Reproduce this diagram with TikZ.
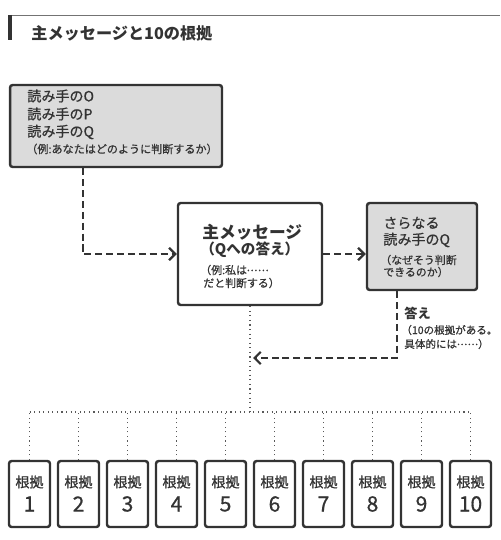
\documentclass[tikz,border=0pt]{standalone}
\usepackage{fontspec}
\setmainfont{Noto Sans CJK JP}
\newfontfamily\med{Noto Sans CJK JP}[FakeBold=0.7]
\usetikzlibrary{arrows.meta}
\definecolor{ink}{gray}{0.2}
\newcommand\jpdots{\raisebox{0.28em}{\makebox[2em][s]{.\hfil.\hfil.\hfil.\hfil.\hfil.}}}
\tikzset{
  box/.style={draw=ink, line width=1.4pt, rounded corners=1.5pt, inner sep=0pt},
  graybox/.style={box, fill=black!14},
  whitebox/.style={box, fill=white},
  smallbox/.style={box, fill=white, minimum width=0.82cm, minimum height=1.32cm},
  txt/.style={text=ink, inner sep=0pt, anchor=west},
  ctxt/.style={text=ink, inner sep=0pt},
  dasharrow/.style={draw=ink, line width=1.3pt, dash pattern=on 4pt off 2.2pt, -{Straight Barb[length=3.5pt,width=7pt,line width=1.3pt]}},
  dotline/.style={draw=black!65, line width=0.6pt, dotted},
}
\begin{document}
\begin{tikzpicture}[x=0.02cm,y=-0.02cm]
\useasboundingbox (0,0) rectangle (500,540);
% title
\draw[black!55, line width=0.5pt] (10,15) -- (500,15);
\draw[ink, line width=2.2pt] (10,15) -- (10,40);
\node[txt, font=\fontsize{9.2}{11}\selectfont\bfseries] (title) at (31,33) {主メッセージと10の根拠};
% boxes
\node[graybox, minimum width=4.24cm, minimum height=1.64cm] (q) at (116,126) {};
\node[whitebox, minimum width=2.88cm, minimum height=2.04cm] (main) at (250,254) {};
\node[graybox, minimum width=2.2cm, minimum height=1.74cm] (more) at (422,246.5) {};
% box q texts
\node[txt, font=\med\fontsize{8}{10}\selectfont] (q1) at (27,96) {読み手のO};
\node[txt, font=\med\fontsize{8}{10}\selectfont] (q2) at (27,114) {読み手のP};
\node[txt, font=\med\fontsize{8}{10}\selectfont] (q3) at (27,132) {読み手のQ};
\node[txt, font=\med\fontsize{6.3}{8}\selectfont] (q4) at (26,149) {（例:あなたはどのように判断するか）};
% main texts
\node[txt, font=\fontsize{9.5}{11}\selectfont\bfseries] (m1) at (202,232) {主メッセージ};
\node[txt, font=\fontsize{8.3}{10}\selectfont\bfseries] (m2) at (200,250) {（Qへの答え）};
\node[txt, font=\med\fontsize{6.2}{8}\selectfont] (m3) at (200,270) {（例:私は\jpdots};
\node[txt, font=\med\fontsize{6.2}{8}\selectfont] (m4) at (203,283) {だと判断する）};
% more texts
\node[txt, font=\med\fontsize{8}{10}\selectfont] (r1) at (383,223) {さらなる};
\node[txt, font=\med\fontsize{8}{10}\selectfont] (r2) at (383,240) {読み手のQ};
\node[txt, font=\med\fontsize{6.2}{8}\selectfont] (r3) at (380,260) {（なぜそう判断};
\node[txt, font=\med\fontsize{6.2}{8}\selectfont] (r4) at (383,272) {できるのか）};
% answer label
\node[txt, font=\fontsize{7.5}{9}\selectfont\bfseries] (a1) at (404,313) {答え};
\node[txt, font=\med\fontsize{6}{8}\selectfont] (a2) at (401,330) {（10の根拠がある。};
\node[txt, font=\med\fontsize{6}{8}\selectfont] (a3) at (404,344) {具体的には\jpdots）};
% small boxes
\foreach \i in {1,...,10}{
  \node[smallbox] (b\i) at ({29.5+49*(\i-1)},494) {};
  \node[ctxt, font=\med\fontsize{8}{9}\selectfont] (k\i) at ({29.5+49*(\i-1)},482) {根拠};
  \node[ctxt, font=\med\fontsize{12}{13}\selectfont] (n\i) at ({29.5+49*(\i-1)},504) {\i};
}
% connectors
\coordinate (c1) at (83,0);
\coordinate (c2) at (397,0);
\coordinate (ans) at (253,358);
\coordinate (bus) at (0,412);
\draw[dasharrow] (q.south -| c1) |- (main.west);
\draw[dasharrow] (main.east) -- (main.east -| more.west);
\draw[dasharrow] (more.south -| c2) |- (ans);
\draw[dotline] (main.south) -- (main.south |- bus);
\draw[dotline] (b1.north |- bus) -- (b10.north |- bus);
\foreach \i in {1,...,10}{
  \draw[dotline] (b\i.north) -- (b\i.north |- bus);
}
\end{tikzpicture}
\end{document}
